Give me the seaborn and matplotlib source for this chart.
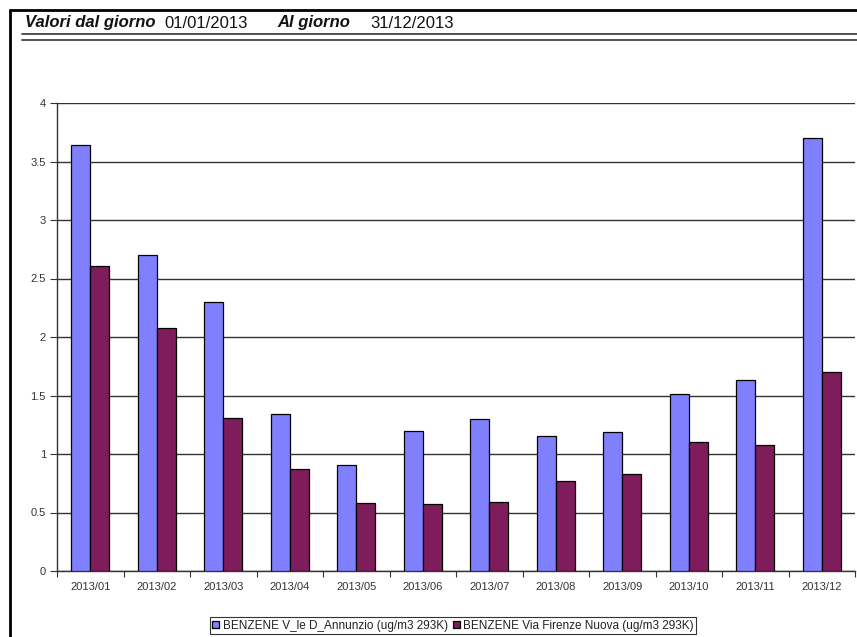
import numpy as np
import pandas as pd
import matplotlib
matplotlib.use("Agg")
import matplotlib.pyplot as plt
from matplotlib.lines import Line2D
import seaborn as sns

# Monthly averages of benzene at two monitoring stations (ug/m3 293K)
mesi = ["2013/01", "2013/02", "2013/03", "2013/04", "2013/05", "2013/06",
        "2013/07", "2013/08", "2013/09", "2013/10", "2013/11", "2013/12"]
dannunzio = [3.64, 2.70, 2.30, 1.34, 0.905, 1.20, 1.30, 1.155, 1.185, 1.515, 1.63, 3.70]
firenze = [2.61, 2.08, 1.31, 0.87, 0.58, 0.57, 0.59, 0.765, 0.83, 1.10, 1.08, 1.70]
serie = ["BENZENE V_le D_Annunzio (ug/m3 293K)",
         "BENZENE Via Firenze Nuova (ug/m3 293K)"]
yticks = [0, 0.5, 1, 1.5, 2, 2.5, 3, 3.5, 4]
colori = ["#8080ff", "#7e1c5c"]

df = pd.DataFrame({
    "mese": mesi * 2,
    "valore": dannunzio + firenze,
    "serie": [serie[0]] * len(mesi) + [serie[1]] * len(mesi),
})

sns.set_style("white")
plt.rcParams["font.family"] = ["Liberation Sans", "DejaVu Sans"]

W, H = 857, 637
fig = plt.figure(figsize=(W / 100, H / 100), dpi=100)
ax = fig.add_axes([57 / W, 1 - 571 / H, (855 - 57) / W, (571 - 103) / H])

sns.barplot(data=df, x="mese", y="valore", hue="serie", palette=colori,
            width=0.57, edgecolor="black", linewidth=0.9, saturation=1,
            ax=ax, zorder=3)
handles, labels = ax.get_legend_handles_labels()
if ax.get_legend() is not None:
    ax.get_legend().remove()

ax.set_ylim(0, 4)
ax.set_xlim(-0.5, len(mesi) - 0.5)
ax.set_xlabel("")
ax.set_ylabel("")

# Horizontal grid lines
ax.set_yticks(yticks, labels=[f"{v:g}" for v in yticks])
ax.yaxis.grid(True, color="#333333", linewidth=1.0, zorder=0)
ax.set_axisbelow(True)
ax.tick_params(axis="y", which="major", direction="out", length=5, width=0.8,
               color="#333333", labelsize=8, labelcolor="#333333", pad=3, left=True)

# Tick marks between categories, labels at category centres
ax.set_xticks(np.arange(-0.5, len(mesi)), labels=[""] * (len(mesi) + 1))
ax.set_xticks(np.arange(len(mesi)), labels=mesi, minor=True)
ax.tick_params(axis="x", which="major", direction="out", length=4, width=0.8,
               color="#333333", bottom=True)
ax.tick_params(axis="x", which="minor", length=0, labelsize=8,
               labelcolor="#333333", pad=8)

for side in ("top", "right"):
    ax.spines[side].set_visible(False)
for side in ("left", "bottom"):
    ax.spines[side].set_color("#333333")
    ax.spines[side].set_linewidth(1.0)

# Legend box under the chart
leg = fig.legend(handles, labels, loc="center", ncol=2,
                 bbox_to_anchor=(453 / W, 1 - 625.5 / H), frameon=True,
                 fancybox=False, fontsize=8.5, handlelength=0.6, handleheight=0.6,
                 handletextpad=0.3, columnspacing=0.4, borderpad=0.2,
                 borderaxespad=0)
leg.get_frame().set_edgecolor("black")
leg.get_frame().set_linewidth(0.8)
for t in leg.get_texts():
    t.set_color("#222222")

# Header with date range
ty = 1 - 23 / H
fig.text(25 / W, ty, "Valori dal giorno", fontsize=12, fontweight="bold",
         fontstyle="italic", va="center", ha="left", color="#111111")
fig.text(164 / W, ty, "01/01/2013", fontsize=12, va="center", ha="left",
         color="#111111")
fig.text(277 / W, ty, "Al giorno", fontsize=12, fontweight="bold",
         fontstyle="italic", va="center", ha="left", color="#111111")
fig.text(370 / W, ty, "31/12/2013", fontsize=12, va="center", ha="left",
         color="#111111")

for y in (34, 39.5):
    fig.add_artist(Line2D([22 / W, 1], [1 - y / H] * 2, color="#333333", lw=1.2))

# Page frame on the left and top
fig.add_artist(Line2D([10 / W, 10 / W], [0, 1 - 10 / H], color="black", lw=2))
fig.add_artist(Line2D([10 / W, 1], [1 - 10 / H] * 2, color="black", lw=2))

fig.savefig("out.png", dpi=100, facecolor="white")
